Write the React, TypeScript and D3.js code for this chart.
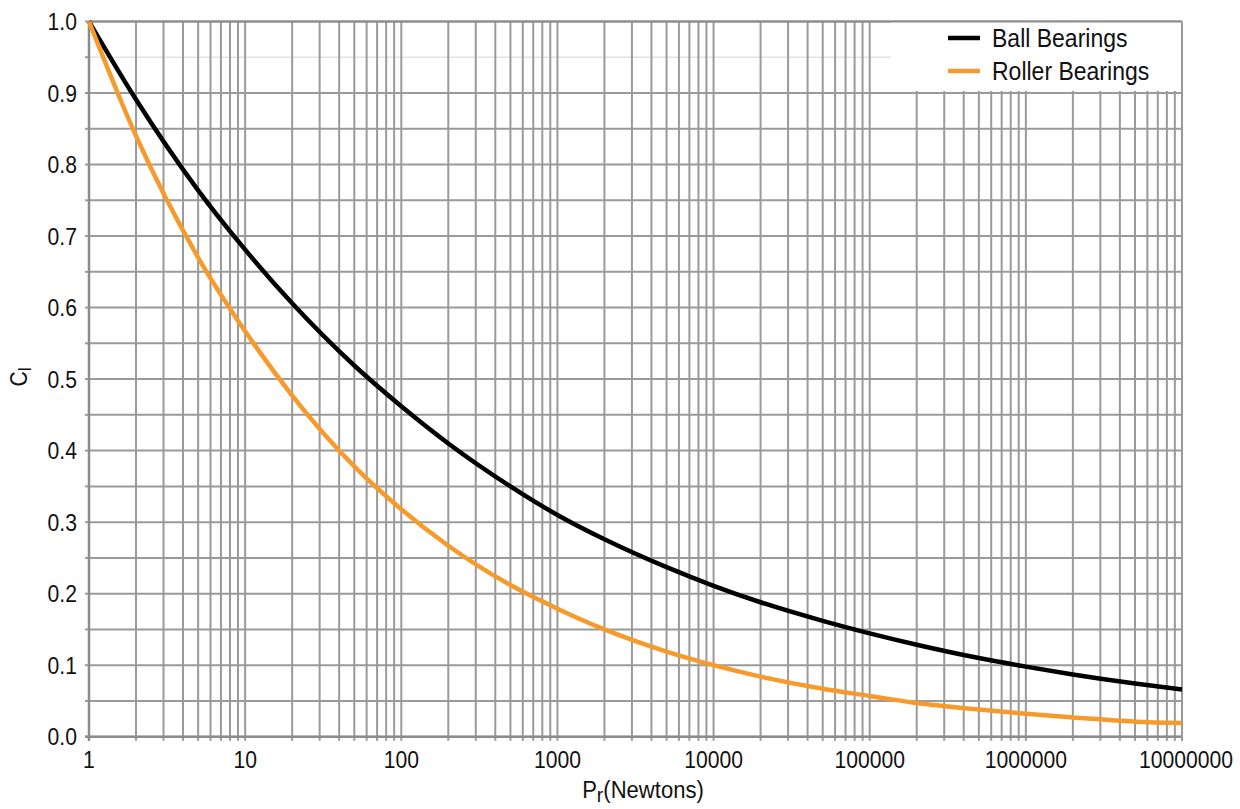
import React from "react";
import * as d3 from "d3";

const loads = [1, 2, 5, 10, 20, 50, 100, 200, 500, 1000, 2000, 5000, 1e4, 2e4, 5e4, 1e5, 2e5, 5e5, 1e6, 2e6, 5e6, 1e7];
const ballValues = [1.0, 0.891, 0.764, 0.681, 0.606, 0.519, 0.462, 0.41, 0.35, 0.31, 0.276, 0.237, 0.211, 0.188, 0.162, 0.1445, 0.1286, 0.11, 0.098, 0.087, 0.0743, 0.066];
const rollerValues = [1.0, 0.84, 0.67, 0.567, 0.477, 0.378, 0.318, 0.267, 0.212, 0.179, 0.15, 0.119, 0.1, 0.084, 0.067, 0.057, 0.047, 0.038, 0.032, 0.027, 0.021, 0.019];
const seriesNames = ["Ball Bearings", "Roller Bearings"];
const seriesColors = ["#000000", "#f79a2c"];
const xTickLabels = ["1", "10", "100", "1000", "10000", "100000", "1000000", "10000000"];
const yTickLabels = ["0.0", "0.1", "0.2", "0.3", "0.4", "0.5", "0.6", "0.7", "0.8", "0.9", "1.0"];

const W = 1240;
const H = 809;
const FONT = "'Liberation Sans', Arial, sans-serif";
const SX = 0.92;

function NText(props: { x: number; y: number; size: number; anchor?: string; children: React.ReactNode }) {
  return (
    <text
      transform={`translate(${props.x},${props.y}) scale(${SX},1)`}
      textAnchor={props.anchor || "start"}
      fontSize={props.size}
      fill="#111"
    >
      {props.children}
    </text>
  );
}

export default function App() {
  const x = d3.scaleLog().domain([1, 1e7]).range([89, 1182]);
  const y = d3.scaleLinear().domain([0, 1]).range([736.7, 21.5]);

  const minorX: number[] = [];
  for (let e = 0; e < 7; e++) {
    for (let m = 1; m <= 9; m++) minorX.push(m * Math.pow(10, e));
  }
  minorX.push(1e7);
  const yGrid = d3.range(0, 21).map((i) => i * 0.05);

  const legendBox = { x: 891, y: 22, w: 290, h: 69 };

  const line = d3
    .line<[number, number]>()
    .x((d) => x(d[0]))
    .y((d) => y(d[1]))
    .curve(d3.curveMonotoneX);

  const series = [ballValues, rollerValues].map((vals) =>
    loads.map((l, i) => [l, vals[i]] as [number, number])
  );

  const gridColor = "#9a9a9a";

  return (
    <svg
      width={W}
      height={H}
      style={{ position: "absolute", left: 0, top: 0, background: "#fff" }}
      fontFamily={FONT}
    >
      {yGrid.map((v, i) => (
        <line
          key={"hg" + i}
          x1={x(1)}
          x2={x(1e7)}
          y1={y(v)}
          y2={y(v)}
          stroke={Math.abs(v - 0.95) < 1e-6 ? "#e2e2e2" : gridColor}
          strokeWidth={Math.abs(v - 0.95) < 1e-6 ? 1.5 : 2}
        />
      ))}
      {minorX.map((v, i) => (
        <line
          key={"vg" + i}
          x1={x(v)}
          x2={x(v)}
          y1={y(1)}
          y2={y(0) + 4}
          stroke={gridColor}
          strokeWidth={2}
        />
      ))}
      {yGrid.map((v, i) => (
        <line key={"yt" + i} x1={x(1) - 4} x2={x(1)} y1={y(v)} y2={y(v)} stroke={gridColor} strokeWidth={2} />
      ))}
      <rect x={legendBox.x} y={legendBox.y} width={legendBox.w} height={legendBox.h} fill="#fff" />
      <line x1={x(1)} x2={x(1)} y1={y(1)} y2={y(0) + 4} stroke="#8c8c8c" strokeWidth={2.5} />
      <line x1={x(1) - 4} x2={x(1e7)} y1={y(0)} y2={y(0)} stroke="#8c8c8c" strokeWidth={2.5} />
      <line x1={x(1)} x2={x(1e7)} y1={y(1)} y2={y(1)} stroke="#8c8c8c" strokeWidth={2} />
      <line x1={x(1e7)} x2={x(1e7)} y1={y(1)} y2={y(0) + 4} stroke="#9a9a9a" strokeWidth={2} />

      {series.map((s, i) => (
        <path key={"s" + i} d={line(s) || ""} fill="none" stroke={seriesColors[i]} strokeWidth={4.5} />
      ))}

      {seriesNames.map((n, i) => (
        <g key={"lg" + i}>
          <line x1={948} x2={980} y1={38 + i * 33} y2={38 + i * 33} stroke={seriesColors[i]} strokeWidth={4.5} />
          <NText x={992} y={47 + i * 33} size={25}>
            {n}
          </NText>
        </g>
      ))}

      {yTickLabels.map((t, i) => (
        <NText key={"yl" + i} x={77} y={y(i / 10) + 8.5} size={23} anchor="end">
          {t}
        </NText>
      ))}
      {xTickLabels.map((t, i) => (
        <NText key={"xl" + i} x={x(Math.pow(10, i)) + (i === 7 ? 4 : 0)} y={768} size={23} anchor="middle">
          {t}
        </NText>
      ))}

      <NText x={643} y={798} size={24} anchor="middle">
        P<tspan fontSize={21} dy={4}>r</tspan>
        <tspan dy={-4}>(Newtons)</tspan>
      </NText>
      <text transform={`translate(27,377) rotate(-90) scale(${SX},1)`} textAnchor="middle" fontSize={23} fill="#111">
        C<tspan fontSize={19} dy={4}>l</tspan>
      </text>
    </svg>
  );
}
